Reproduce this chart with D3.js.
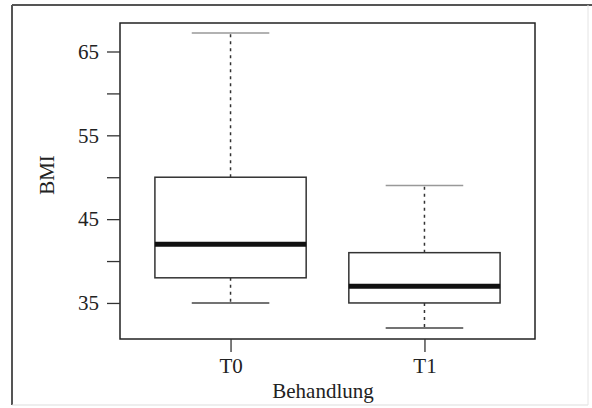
<!DOCTYPE html>
<html>
<head>
<meta charset="utf-8">
<script src="https://cdn.jsdelivr.net/npm/d3@7"></script>
<style>
  body { margin: 0; background: #fff; }
  text { font-family: "Liberation Serif", "Times New Roman", serif; fill: #222; }
</style>
</head>
<body>
<div class="chart"></div>
<script>
// data
var groups = ["T0", "T1"];
var lowerWhisker = [35, 32];
var q1 = [38, 35];
var median = [42, 37];
var q3 = [50, 41];
var upperWhisker = [67.2, 49];
var yTicks = [35, 40, 45, 50, 55, 60, 65];
var yLabels = [35, 45, 55, 65];

var svgWidth = 592;
var svgHeight = 408;

var margin = { top: 23, right: 57, bottom: 69, left: 120 };
var width = svgWidth - margin.left - margin.right;
var height = svgHeight - margin.top - margin.bottom;

var svg = d3.select(".chart")
  .append("svg")
  .attr("width", svgWidth)
  .attr("height", svgHeight);

// outer frame of the scan
svg.append("line").attr("x1", 12).attr("y1", 5).attr("x2", 592).attr("y2", 5)
  .attr("stroke", "#555").attr("stroke-width", 2);
svg.append("line").attr("x1", 12).attr("y1", 5).attr("x2", 12).attr("y2", 405)
  .attr("stroke", "#555").attr("stroke-width", 2);
svg.append("line").attr("x1", 12).attr("y1", 405).attr("x2", 588).attr("y2", 405)
  .attr("stroke", "#ddd").attr("stroke-width", 1);
svg.append("line").attr("x1", 588).attr("y1", 5).attr("x2", 588).attr("y2", 405)
  .attr("stroke", "#e4e4e4").attr("stroke-width", 1);

var chartGroup = svg.append("g")
  .attr("transform", `translate(${margin.left}, ${margin.top})`);

var x = d3.scalePoint()
  .domain(groups)
  .range([0, width])
  .padding(0.57);

var y = d3.scaleLinear()
  .domain([30.7, 68.4])
  .range([height, 0]);

var step = x.step();
var boxW = step * 0.78;
var capW = step * 0.4;

// plot box
chartGroup.append("rect")
  .attr("width", width)
  .attr("height", height)
  .attr("fill", "none")
  .attr("stroke", "#222")
  .attr("stroke-width", 1.5);

// axes
var leftAxis = d3.axisLeft(y)
  .tickValues(yTicks)
  .tickSize(13)
  .tickPadding(8)
  .tickFormat(d => yLabels.indexOf(d) >= 0 ? d : "");

var bottomAxis = d3.axisBottom(x)
  .tickSize(13)
  .tickPadding(6);

var gy = chartGroup.append("g").call(leftAxis);
var gx = chartGroup.append("g")
  .attr("transform", `translate(0, ${height})`)
  .call(bottomAxis);

[gy, gx].forEach(function(g) {
  g.select(".domain").remove();
  g.selectAll("line").attr("stroke", "#333").attr("stroke-width", 1.3);
  g.selectAll("text")
    .attr("font-family", "Liberation Serif, serif")
    .attr("font-size", 21)
    .attr("fill", "#222");
});

// boxes
var box = chartGroup.selectAll(".box")
  .data(groups)
  .enter()
  .append("g")
  .attr("class", "box");

// whiskers (dashed)
box.append("line")
  .attr("x1", d => x(d)).attr("x2", d => x(d))
  .attr("y1", (d, i) => y(q3[i])).attr("y2", (d, i) => y(upperWhisker[i]))
  .attr("stroke", "#333").attr("stroke-width", 1.5)
  .attr("stroke-dasharray", "3,4");

box.append("line")
  .attr("x1", d => x(d)).attr("x2", d => x(d))
  .attr("y1", (d, i) => y(q1[i])).attr("y2", (d, i) => y(lowerWhisker[i]))
  .attr("stroke", "#333").attr("stroke-width", 1.5)
  .attr("stroke-dasharray", "3,4");

// caps
box.append("line")
  .attr("x1", d => x(d) - capW / 2).attr("x2", d => x(d) + capW / 2)
  .attr("y1", (d, i) => y(upperWhisker[i])).attr("y2", (d, i) => y(upperWhisker[i]))
  .attr("stroke", "#999").attr("stroke-width", 1.5);

box.append("line")
  .attr("x1", d => x(d) - capW / 2).attr("x2", d => x(d) + capW / 2)
  .attr("y1", (d, i) => y(lowerWhisker[i])).attr("y2", (d, i) => y(lowerWhisker[i]))
  .attr("stroke", "#444").attr("stroke-width", 1.5);

// IQR rect
box.append("rect")
  .attr("x", d => x(d) - boxW / 2)
  .attr("width", boxW)
  .attr("y", (d, i) => y(q3[i]))
  .attr("height", (d, i) => y(q1[i]) - y(q3[i]))
  .attr("fill", "#fff")
  .attr("stroke", "#333")
  .attr("stroke-width", 1.5);

// median
box.append("line")
  .attr("x1", d => x(d) - boxW / 2).attr("x2", d => x(d) + boxW / 2)
  .attr("y1", (d, i) => y(median[i])).attr("y2", (d, i) => y(median[i]))
  .attr("stroke", "#111").attr("stroke-width", 5);

// axis titles
chartGroup.append("text")
  .attr("transform", "rotate(-90)")
  .attr("x", 0 - (175 - margin.top))
  .attr("y", 47 - margin.left)
  .attr("dy", "0.35em")
  .attr("text-anchor", "middle")
  .attr("font-size", 21)
  .text("BMI");

chartGroup.append("text")
  .attr("x", 323 - margin.left)
  .attr("y", height + 59)
  .attr("text-anchor", "middle")
  .attr("font-size", 21)
  .text("Behandlung");
</script>
</body>
</html>
